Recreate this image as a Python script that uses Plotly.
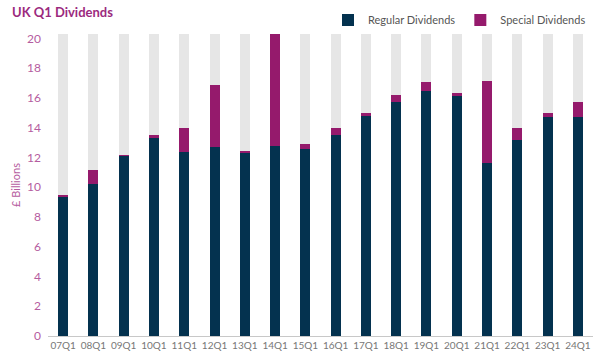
import plotly.graph_objects as go

quarters = ["07Q1", "08Q1", "09Q1", "10Q1", "11Q1", "12Q1", "13Q1", "14Q1", "15Q1",
            "16Q1", "17Q1", "18Q1", "19Q1", "20Q1", "21Q1", "22Q1", "23Q1", "24Q1"]
regular = [9.4, 10.2, 12.1, 13.3, 12.4, 12.7, 12.3, 12.8, 12.6,
           13.5, 14.8, 15.75, 16.5, 16.1, 11.6, 13.15, 14.7, 14.75]
special = [0.1, 0.95, 0.1, 0.2, 1.55, 4.15, 0.15, 7.5, 0.3,
           0.5, 0.2, 0.45, 0.55, 0.25, 5.55, 0.85, 0.3, 0.95]
y_max = 20.3
y_ticks = [0, 2, 4, 6, 8, 10, 12, 14, 16, 18, 20]

background = [max(y_max - r - s, 0) for r, s in zip(regular, special)]

NAVY = "#04324f"
MAGENTA = "#951a6c"
GREY = "#e6e6e6"
FONT = "Lato"

fig = go.Figure()
fig.add_trace(go.Bar(x=quarters, y=regular, name="Regular Dividends",
                     marker=dict(color=NAVY, line=dict(width=0))))
fig.add_trace(go.Bar(x=quarters, y=special, name="Special Dividends",
                     marker=dict(color=MAGENTA, line=dict(width=0))))
fig.add_trace(go.Bar(x=quarters, y=background, name="bg", showlegend=False,
                     marker=dict(color=GREY, line=dict(width=0)), hoverinfo="skip"))

fig.update_layout(
    width=600, height=359,
    barmode="stack", bargap=0.67,
    plot_bgcolor="white", paper_bgcolor="white",
    margin=dict(l=48, r=7, t=34, b=23, autoexpand=False),
    font=dict(family=FONT, size=11, color="#666"),
    title=dict(text="<b>UK Q1 Dividends</b>", x=0.02, xanchor="left",
               xref="container", yref="container", y=1 - 12 / 359, yanchor="middle",
               font=dict(family=FONT, size=13, color="#9b2a7e")),
    legend=dict(orientation="h", x=0.985, xanchor="right", xref="container",
                yref="container", y=1 - 20 / 359, yanchor="middle",
                font=dict(family=FONT, size=11, color="#555"), traceorder="normal",
                itemwidth=30, bgcolor="rgba(0,0,0,0)"),
    showlegend=True,
)
fig.update_xaxes(showline=True, linecolor="#c8c8c8", linewidth=1, ticks="",
                 tickfont=dict(family=FONT, size=10, color="#777"), showgrid=False,
                 range=[-0.5, len(quarters) - 0.5], automargin=False)
fig.update_yaxes(range=[0, y_max], tickvals=y_ticks, showgrid=False, zeroline=False,
                 showline=False, ticks="", ticklabelstandoff=6, automargin=False,
                 tickfont=dict(family=FONT, size=12, color="#b55ca0"),
                 title=dict(text="£ Billions", standoff=4,
                            font=dict(family=FONT, size=11, color="#b55ca0")))

fig.write_html("out.html", config={"displayModeBar": False},
               post_script="document.body.style.margin='0';")
